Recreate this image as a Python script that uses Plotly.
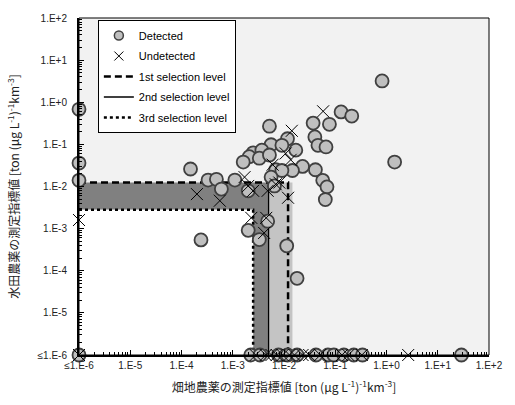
import plotly.graph_objects as go

# ---- data -------------------------------------------------------------
# Detected pesticides (upland index, paddy index); 1e-6 stands for "<=1E-6"
det_x = [1e-6, 1e-6, 1e-6, 1e-6,
         0.82, 0.13, 0.21, 0.037, 0.077, 5.2e-3, 0.040, 0.046, 0.066, 0.0117,
         5.6e-3, 9.1e-3, 0.017, 2.5e-3, 3.7e-3, 2.1e-3, 1.6e-3, 3.3e-3, 5.2e-3,
         0.023, 0.041, 0.0146, 6.9e-3, 9.1e-3, 0.057, 0.069, 0.064, 5.6e-3, 1.44,
         3.3e-4, 4.8e-4, 6.0e-4, 1.1e-3, 1.5e-4, 2.0e-3, 6.5e-3,
         2.0e-3, 3.3e-3, 4.8e-3, 0.0113, 0.018, 2.4e-4,
         2.25e-3, 3.4e-3, 7.8e-3, 0.0117, 0.018, 0.042, 0.072, 0.094, 0.147,
         0.23, 0.34, 29]
det_y = [0.68, 0.036, 0.014, 1e-6,
         3.2, 0.59, 0.47, 0.32, 0.30, 0.27, 0.15, 0.095, 0.087, 0.136,
         0.098, 0.095, 0.073, 0.063, 0.073, 0.051, 0.038, 0.047, 0.056,
         0.030, 0.025, 0.024, 0.025, 0.024, 0.014, 9.8e-3, 4.9e-3, 0.0167, 0.038,
         0.0142, 0.0148, 8.7e-3, 0.0142, 0.026, 7.9e-3, 0.0103,
         9.1e-4, 5.5e-4, 1.5e-3, 3.9e-4, 6.6e-5, 5.4e-4,
         1e-6, 1e-6, 1e-6, 1e-6, 1e-6, 1e-6, 1e-6, 1e-6, 1e-6,
         1e-6, 1e-6, 1e-6]

# Undetected pesticides
und_x = [1e-6, 1e-6, 0.058, 0.0142, 0.0108, 0.0135, 6.0e-3, 1.7e-3, 2.0e-3,
         2.5e-3, 4.8e-3, 6.9e-3, 8.1e-3, 0.012, 5.6e-4, 2.0e-4, 2.3e-3, 4.5e-3,
         4.1e-3,
         2.8e-3, 4.4e-3, 5.7e-3, 7.2e-3, 9.4e-3, 0.0128, 0.016, 0.023, 0.031,
         0.051, 0.135, 0.18, 0.33, 2.65]
und_y = [1.6e-3, 1e-6, 0.61, 0.21, 0.061, 0.043, 0.033, 0.0167, 0.0103,
         7.9e-3, 7.9e-3, 0.0113, 0.0124, 5.4e-3, 4.6e-3, 6.6e-3, 1.8e-3, 1.8e-3,
         7.9e-4,
         1e-6, 1e-6, 1e-6, 1e-6, 1e-6, 1e-6, 1e-6, 1e-6, 1e-6,
         1e-6, 1e-6, 1e-6, 1e-6, 1e-6]

# Selection levels
lvl1_x, lvl1_y = 1.2e-2, 1.25e-2      # 1st selection level
lvl2_x = 5.0e-3                        # 2nd selection level
lvl3_x, lvl3_y = 2.5e-3, 2.8e-3        # 3rd selection level
band_edge_x = 1.46e-2                  # right edge of the light band
floor_val = 1e-6                       # "<=1E-6" floor

tick_vals = [1e-6, 1e-5, 1e-4, 1e-3, 1e-2, 1e-1, 1e0, 1e1, 1e2]
tick_text = ["≤1.E-6", "1.E-5", "1.E-4", "1.E-3", "1.E-2", "1.E-1",
             "1.E+0", "1.E+1", "1.E+2"]

# ---- figure -----------------------------------------------------------
fig = go.Figure()

# dark band between 3rd and 2nd levels (L-shape)
fig.add_trace(go.Scatter(
    x=[floor_val, lvl2_x, lvl2_x, lvl3_x, lvl3_x, floor_val, floor_val],
    y=[lvl1_y, lvl1_y, floor_val, floor_val, lvl3_y, lvl3_y, lvl1_y],
    fill="toself", fillcolor="#808080", line=dict(width=0),
    mode="lines", showlegend=False, hoverinfo="skip"))
# light band between 2nd and 1st levels
fig.add_trace(go.Scatter(
    x=[lvl2_x, band_edge_x, band_edge_x, lvl2_x, lvl2_x],
    y=[floor_val, floor_val, lvl1_y, lvl1_y, floor_val],
    fill="toself", fillcolor="#c4c4c4", line=dict(width=0),
    mode="lines", showlegend=False, hoverinfo="skip"))
# white area below the 3rd level
fig.add_trace(go.Scatter(
    x=[floor_val, lvl3_x, lvl3_x, floor_val, floor_val],
    y=[floor_val, floor_val, lvl3_y, lvl3_y, floor_val],
    fill="toself", fillcolor="#ffffff", line=dict(width=0),
    mode="lines", showlegend=False, hoverinfo="skip"))

# selection level lines
fig.add_trace(go.Scatter(
    x=[floor_val, lvl1_x, lvl1_x], y=[lvl1_y, lvl1_y, floor_val],
    mode="lines", name="1st selection level", legendrank=3,
    legendgroup="g3",
    line=dict(color="black", width=2.5, dash="7px,4px")))
fig.add_trace(go.Scatter(
    x=[lvl2_x, lvl2_x], y=[lvl1_y, floor_val],
    mode="lines", name="2nd selection level", legendrank=4,
    legendgroup="g4",
    line=dict(color="black", width=1.3)))
fig.add_trace(go.Scatter(
    x=[floor_val, lvl3_x, lvl3_x], y=[lvl3_y, lvl3_y, floor_val],
    mode="lines", name="3rd selection level", legendrank=5,
    legendgroup="g5",
    line=dict(color="black", width=2.5, dash="dot")))

# points
fig.add_trace(go.Scatter(
    x=det_x, y=det_y, mode="markers", showlegend=False, cliponaxis=False,
    legendgroup="g1",
    marker=dict(symbol="circle", size=13, color="#bfbfbf",
                line=dict(color="#404040", width=1.8))))
fig.add_trace(go.Scatter(
    x=und_x, y=und_y, mode="markers", showlegend=False, cliponaxis=False,
    legendgroup="g2",
    marker=dict(symbol="x-thin", size=12, color="black",
                line=dict(color="black", width=1))))

# compact legend symbols for the two point series
fig.add_trace(go.Scatter(
    x=[None], y=[None], mode="markers", name="Detected", legendrank=1,
    legendgroup="g1",
    marker=dict(symbol="circle", size=9, color="#bfbfbf",
                line=dict(color="#404040", width=1.5))))
fig.add_trace(go.Scatter(
    x=[None], y=[None], mode="markers", name="Undetected", legendrank=2,
    legendgroup="g2",
    marker=dict(symbol="x-thin", size=9, color="black",
                line=dict(color="black", width=1))))

tick_font = dict(family="Liberation Sans, Arial, sans-serif", size=10,
                 color="#222222")
minor_vals = [m * 10.0 ** e for e in range(-6, 2) for m in range(2, 10)]

axis_common = dict(
    type="log", range=[-6, 2], tickmode="array",
    tickvals=tick_vals, ticktext=tick_text,
    ticks="inside", ticklen=5, tickwidth=1, tickcolor="black",
    showline=True, linewidth=2, linecolor="black",
    showgrid=False, zeroline=False, tickfont=tick_font,
    minor=dict(tickmode="array", tickvals=minor_vals, ticks="inside",
               ticklen=3, tickwidth=1, tickcolor="black", showgrid=False),
)

fig.update_layout(
    width=515, height=405,
    margin=dict(l=79, r=21, t=13, b=44),
    paper_bgcolor="white", plot_bgcolor="#f2f2f2",
    showlegend=True,
    legend=dict(
        x=0.046, y=0.994, xanchor="left", yanchor="top",
        bgcolor="white", bordercolor="black", borderwidth=1,
        font=dict(family="Liberation Sans, Arial, sans-serif", size=11,
                  color="black"),
        tracegroupgap=1.5, itemwidth=30,
    ),
    xaxis=dict(axis_common,
               title=dict(text="畑地農薬の測定指標値 [ton (µg L<sup>-1</sup>)<sup>-1</sup>km<sup>-3</sup>]",
                          font=dict(family="Noto Sans CJK JP", size=12,
                                    color="#222222"),
                          standoff=14)),
    yaxis=dict(axis_common, ticklabelstandoff=8,
               title=dict(text="水田農薬の測定指標値 [ton (µg L<sup>-1</sup>)<sup>-1</sup>km<sup>-3</sup>]",
                          font=dict(family="Noto Sans CJK JP", size=12,
                                    color="#222222"),
                          standoff=15)),
    shapes=[dict(type="rect", xref="paper", yref="paper",
                 x0=0, x1=1, y0=0, y1=1,
                 line=dict(color="black", width=1), layer="above")],
)

fig.write_html("out.html")
